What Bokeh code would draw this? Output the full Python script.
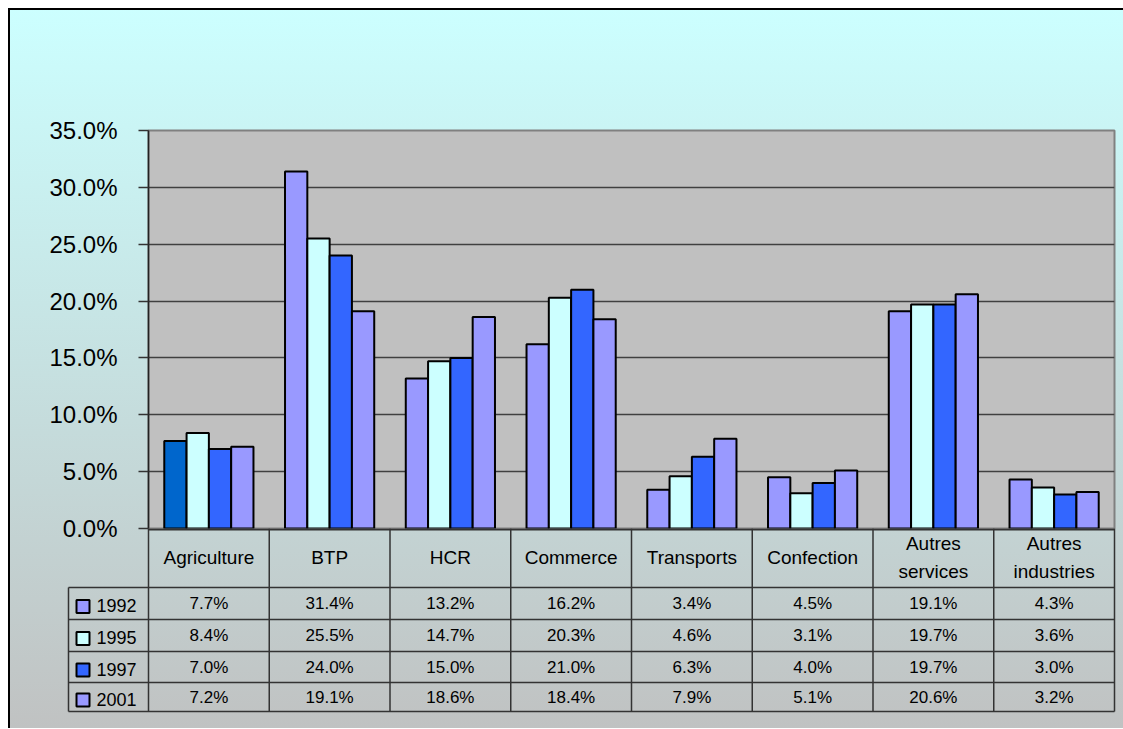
from bokeh.plotting import figure
from bokeh.layouts import column
from bokeh.models import Range1d, FixedTicker, PrintfTickFormatter
from bokeh.core.properties import value
from bokeh.embed import file_html
from bokeh.resources import INLINE

# ---------------- data ----------------
categories = ["Agriculture", "BTP", "HCR", "Commerce", "Transports",
              "Confection", "Autres\nservices", "Autres\nindustries"]
years = ["1992", "1995", "1997", "2001"]
v1992 = [7.7, 31.4, 13.2, 16.2, 3.4, 4.5, 19.1, 4.3]
v1995 = [8.4, 25.5, 14.7, 20.3, 4.6, 3.1, 19.7, 3.6]
v1997 = [7.0, 24.0, 15.0, 21.0, 6.3, 4.0, 19.7, 3.0]
v2001 = [7.2, 19.1, 18.6, 18.4, 7.9, 5.1, 20.6, 3.2]
series = [v1992, v1995, v1997, v2001]
series_colors = ["#9999FF", "#CCFFFF", "#3366FF", "#9999FF"]
agri_1992_color = "#0066CC"
y_ticks = [0, 5, 10, 15, 20, 25, 30, 35]

# ---------------- layout constants ----------------
FONT = value("Liberation Sans")
W = 1115
FRAME_L, FRAME_W = 140, 966
FRAME_T, FRAME_H = 122, 398
CW = FRAME_W / 8.0
BAR_W = 22.3 / CW
OVERLAP = 20
A_H = FRAME_T + FRAME_H + OVERLAP
B_H = 200

# ---------------- chart figure ----------------
pA = figure(width=W, height=A_H, x_range=Range1d(0, 8), y_range=Range1d(0, 35),
            x_axis_type=None, output_backend="svg", toolbar_location=None,
            min_border_left=FRAME_L, min_border_right=W - FRAME_L - FRAME_W,
            min_border_top=FRAME_T, min_border_bottom=OVERLAP, frame_align=False)
pA.background_fill_color = "#C0C0C0"
pA.border_fill_color = None
pA.outline_line_color = "#808080"
pA.outline_line_width = 2

ax = pA.yaxis[0]
ax.ticker = FixedTicker(ticks=y_ticks)
ax.formatter = PrintfTickFormatter(format="%.1f%%")
ax.major_label_text_font = "Liberation Sans"
ax.major_label_text_font_size = "24px"
ax.major_label_text_color = "#000000"
ax.major_label_standoff = 21
ax.major_tick_out = 10
ax.major_tick_in = 0
ax.minor_tick_line_color = None
ax.major_tick_line_color = "#333333"
ax.major_tick_line_width = 1.5
ax.axis_line_color = "#222222"
ax.axis_line_width = 1.5

pA.ygrid.ticker = FixedTicker(ticks=y_ticks)
pA.ygrid.grid_line_color = "#404040"
pA.ygrid.grid_line_width = 1.5

for j, vals in enumerate(series):
    xs = [i + 0.5 + (j - 1.5) * BAR_W for i in range(len(categories))]
    cols = [series_colors[j]] * len(categories)
    if j == 0:
        cols[0] = agri_1992_color
    pA.vbar(x=xs, top=vals, bottom=0, width=BAR_W, fill_color=cols,
            line_color="#000000", line_width=2)

# ---------------- data table figure ----------------
pB = figure(width=W, height=B_H,
            x_range=Range1d(-FRAME_L / CW, (W - FRAME_L) / CW),
            y_range=Range1d(B_H, 0),
            x_axis_type=None, y_axis_type=None, output_backend="svg",
            toolbar_location=None, min_border=0, frame_align=False)
pB.background_fill_color = None
pB.border_fill_color = None
pB.outline_line_color = None
pB.xgrid.visible = False
pB.ygrid.visible = False
pB.styles = {"margin-top": "-%dpx" % OVERLAP}

LEG_X0 = -80 / CW
row_lines = [59, 91, 123, 154, 183]
row_centers = [(row_lines[k] + row_lines[k + 1]) / 2 for k in range(4)]

# axis line at top of table
pB.segment(x0=[0], y0=[1], x1=[8], y1=[1], line_color="#333333", line_width=2)
# vertical separators
n = len(categories)
pB.segment(x0=list(range(n + 1)), y0=[0] * (n + 1), x1=list(range(n + 1)),
           y1=[row_lines[-1]] * (n + 1), line_color="#333333", line_width=1.5)
pB.segment(x0=[LEG_X0], y0=[row_lines[0]], x1=[LEG_X0], y1=[row_lines[-1]],
           line_color="#333333", line_width=1.5)
# horizontal separators
pB.segment(x0=[LEG_X0] * len(row_lines), y0=row_lines, x1=[8] * len(row_lines),
           y1=row_lines, line_color="#333333", line_width=1.5)

# category labels
pB.text(x=[i + 0.5 for i in range(n)], y=[29] * n, text=categories,
        text_align="center", text_baseline="middle", text_font=FONT,
        text_font_size="19px", text_color="#000000", text_line_height=1.3)

# values
for k, vals in enumerate(series):
    pB.text(x=[i + 0.5 for i in range(n)], y=[row_centers[k]] * n,
            text=["%.1f%%" % v for v in vals], text_align="center",
            text_baseline="middle", text_font=FONT, text_font_size="17px",
            text_color="#000000")

# legend column
pB.scatter(x=[(82.5 - FRAME_L - 8) / CW] * 4, y=[c + 3 for c in row_centers],
           marker="square", size=13, fill_color=series_colors,
           line_color="#000000", line_width=2)
pB.text(x=[(96 - FRAME_L - 8) / CW] * 4, y=[c + 2 for c in row_centers],
        text=years, text_align="left", text_baseline="middle", text_font=FONT,
        text_font_size="18px", text_color="#000000")

layout = column(pA, pB, spacing=0)
layout.styles = {
    "margin-left": "8px",
    "margin-top": "8px",
    "background": "linear-gradient(to bottom, #CCFFFF 0%, #C0C2C2 100%)",
    "box-shadow": "inset 2px 2px 0 0 #000000",
}

open("out.html", "w").write(file_html(layout, INLINE))
